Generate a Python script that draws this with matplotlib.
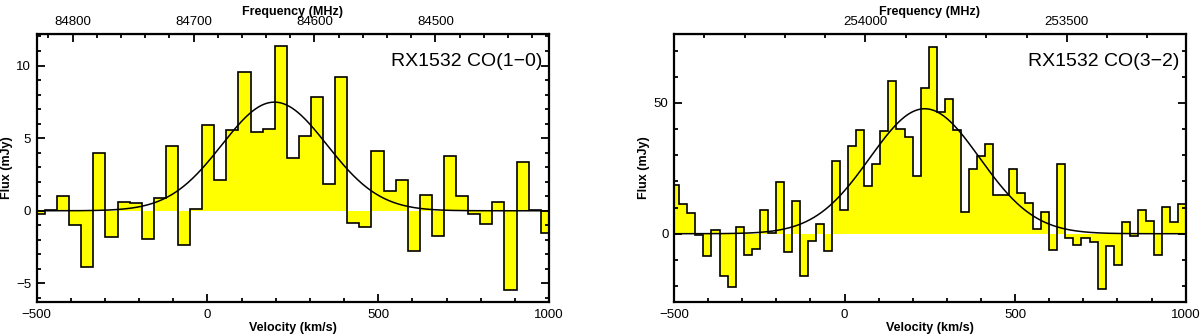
import numpy as np
import matplotlib.pyplot as plt
from matplotlib.ticker import MultipleLocator, FixedLocator

plt.rcParams['font.family'] = ['Liberation Sans', 'DejaVu Sans']

C_KMS = 299792.458

# CO(1-0): 10 MHz channels, 35.4 km/s
co10_edge0 = -511.1
co10_width = 35.4
co10_flux = [-0.2, 0.02, 1.05, -0.98, -3.87, 4.0, -1.81, 0.6, 0.55, -1.95,
             0.87, 4.44, -2.38, 0.09, 5.93, 2.15, 5.54, 9.52, 5.4, 5.6,
             11.33, 3.6, 5.15, 7.85, 1.81, 9.22, -0.85, -1.12, 4.14, 1.33,
             2.1, -2.79, 1.1, -1.76, 3.8, 1.05, -0.23, -0.89, 0.57, -5.45,
             3.39, 0.05, -1.53]
co10_fit = (7.48, 196.0, 154.0)     # amplitude, centre, sigma
co10_f0 = 84688.5

# CO(3-2): 20 MHz channels, 23.58 km/s
co32_edge0 = -508.1
co32_width = 23.58
co32_flux = [18.6, 11.3, 7.8, -0.6, -8.7, 1.5, -16.2, -20.5, 2.7, -8.2,
             -5.9, 9.2, 0.3, 19.6, -7.0, 12.4, -16.1, -2.7, 3.8, -6.6,
             27.7, 9.2, 33.5, 39.5, 18.4, 26.8, 39.1, 58.6, 40.0, 37.1,
             22.2, 55.8, 71.5, 46.6, 51.5, 39.7, 8.2, 24.9, 29.6, 34.3,
             14.7, 14.7, 24.9, 15.7, 11.9, 1.8, 8.2, -6.3, 26.6, -1.6,
             -4.2, -1.6, -3.0, -21.3, -4.6, -12.0, 4.3, -1.0, 8.9, 4.9,
             -8.0, 10.4, 4.6, 11.5]
co32_fit = (47.8, 235.0, 161.0)
co32_f0 = 254052.0

panels = [
    dict(edge0=co10_edge0, width=co10_width, flux=co10_flux, fit=co10_fit,
         f0=co10_f0, ylim=(-6.26, 12.19), ymaj=5, ymin=1, fmaj=100, fmin=20,
         label='RX1532 CO(1\u22120)', rect=[36.7 / 1200, 0.0994, 512.3 / 1200, 0.8]),
    dict(edge0=co32_edge0, width=co32_width, flux=co32_flux, fit=co32_fit,
         f0=co32_f0, ylim=(-26.0, 76.5), ymaj=50, ymin=10, fmaj=500, fmin=100,
         label='RX1532 CO(3\u22122)', rect=[674 / 1200, 0.0994, 511.7 / 1200, 0.8]),
]

fig = plt.figure(figsize=(12, 3.35), dpi=100)

for p in panels:
    ax = fig.add_axes(p['rect'])
    flux = np.array(p['flux'])
    edges = p['edge0'] + p['width'] * np.arange(len(flux) + 1)

    ax.stairs(flux, edges, baseline=0, fill=True, color='#ffff00', lw=0)
    ax.stairs(flux, edges, baseline=None, color='black', lw=1.2)

    amp, mu, sig = p['fit']
    v = np.linspace(-500, 1000, 800)
    ax.plot(v, amp * np.exp(-0.5 * ((v - mu) / sig) ** 2), color='black', lw=1.1)

    ax.set_xlim(-500, 1000)
    ax.set_ylim(*p['ylim'])
    ax.xaxis.set_major_locator(MultipleLocator(500))
    ax.xaxis.set_minor_locator(MultipleLocator(100))
    ax.yaxis.set_major_locator(MultipleLocator(p['ymaj']))
    ax.yaxis.set_minor_locator(MultipleLocator(p['ymin']))
    ax.tick_params(which='both', direction='in', top=False, right=True,
                   width=1.3, labelsize=9.5, pad=4)
    ax.tick_params(which='major', length=5.5)
    ax.tick_params(which='minor', length=3)
    ax.tick_params(axis='x', pad=5)
    for s in ax.spines.values():
        s.set_linewidth(1.6)

    ax.set_xlabel('Velocity (km/s)', fontsize=9, fontweight='bold')
    ax.xaxis.set_label_coords(0.5, -0.075)
    ax.set_ylabel('Flux (mJy)', fontsize=9, fontweight='bold')
    ax.yaxis.set_label_coords(-0.047, 0.5)

    f0 = p['f0']
    v2f = lambda x, f0=f0: f0 * (1 - x / C_KMS)
    f2v = lambda f, f0=f0: C_KMS * (1 - f / f0)
    sec = ax.secondary_xaxis('top', functions=(v2f, f2v))
    f_lo, f_hi = v2f(1000), v2f(-500)
    fmaj = np.arange(np.ceil(f_lo / p['fmaj']), np.floor(f_hi / p['fmaj']) + 1) * p['fmaj']
    fmin = np.arange(np.ceil(f_lo / p['fmin']), np.floor(f_hi / p['fmin']) + 1) * p['fmin']
    sec.xaxis.set_major_locator(FixedLocator(fmaj))
    sec.xaxis.set_minor_locator(FixedLocator(fmin))
    sec.tick_params(which='both', direction='in', width=1.3, labelsize=9.5, pad=4)
    sec.tick_params(which='major', length=6)
    sec.tick_params(which='minor', length=3)
    sec.set_xlabel('Frequency (MHz)', fontsize=9, fontweight='bold', labelpad=1)

    ax.text(0.988, 0.879, p['label'], transform=ax.transAxes, ha='right',
            va='baseline', fontsize=14)

fig.savefig('out.png', dpi=100)
